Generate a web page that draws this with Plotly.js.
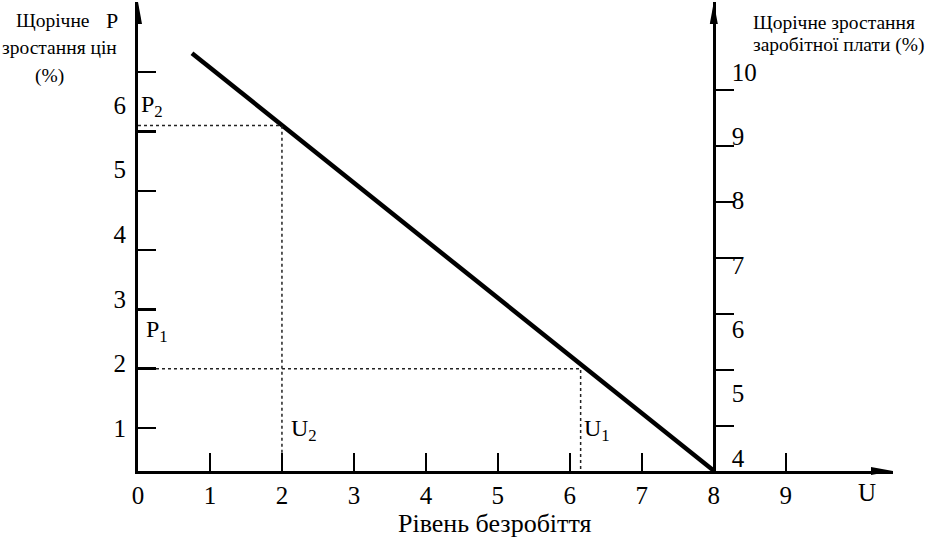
<!DOCTYPE html>
<html>
<head>
<meta charset="utf-8">
<script src="https://cdn.plot.ly/plotly-3.0.1.min.js"></script>
<style>
  html, body { margin: 0; padding: 0; background: #fff; }
  #chart { width: 928px; height: 538px; }
</style>
</head>
<body>
<div id="chart"></div>
<script>
// Phillips curve: unemployment vs annual price / wage growth
const curveU = [0.75, 8];
const curveP = [7.32, 0.28];
const pointNames = ['1', '2'];
const pointU = [6.15, 2];     // U1, U2
const pointP = [2, 6.1];      // P1, P2

const xTickVals = [0, 1, 2, 3, 4, 5, 6, 7, 8, 9];
const leftTickVals = [1, 2, 3, 4, 5, 6, 7];
const leftLabelVals = [1, 2, 3, 4, 5, 6];
const rightVals = [4, 5, 6, 7, 8, 9, 10];

const leftTitle = ['Щорічне', 'зростання цін', '(%)'];
const rightTitle = ['Щорічне зростання', 'заробітної плати (%)'];
const xTitle = 'Рівень безробіття';

const font = 'Liberation Serif, Times New Roman, serif';
const ink = '#000';

const xRange = [0, 10.49];
const yRange = [0.275, 8.184];      // tick marks on left axis
const yLabelRange = [0.334, 7.594]; // labels on left axis
const rLabelRange = [3.798, 11.088];
const rTickRange = [3.196, 11.571];
const rightPos = 8 / xRange[1];

var data = [{
  x: curveU, y: curveP,
  mode: 'lines', type: 'scatter',
  line: { color: ink, width: 4.5 },
  hoverinfo: 'skip'
}];
pointU.forEach((u, i) => {
  data.push({
    x: [0, u, u], y: [pointP[i], pointP[i], yRange[0]],
    mode: 'lines', type: 'scatter',
    line: { color: '#222', width: 1.5, dash: 'dot' },
    hoverinfo: 'skip'
  });
});
// empty traces so the extra axes get drawn
['y2', 'y3', 'y4'].forEach(ax => {
  data.push({ x: [], y: [], yaxis: ax, mode: 'lines', type: 'scatter', hoverinfo: 'skip' });
});

var annotations = [];
pointU.forEach((u, i) => {
  annotations.push({
    x: u, y: yRange[0], xref: 'x', yref: 'y',
    xanchor: 'left', yanchor: 'bottom', xshift: i == 0 ? 1 : 7, yshift: 24,
    text: 'U<sub>' + pointNames[i] + '</sub>', showarrow: false,
    font: { family: font, size: 24, color: ink }
  });
  annotations.push({
    x: 0, y: pointP[i], xref: 'x', yref: 'y',
    xanchor: 'left', yanchor: 'bottom', xshift: i == 0 ? 6 : 1, yshift: i == 0 ? 21 : 3,
    text: 'P<sub>' + pointNames[i] + '</sub>', showarrow: false,
    font: { family: font, size: 24, color: ink }
  });
});
// left title, one annotation per line
const leftTitleY = [20, 47, 76];
const leftTitleX = [53, 59, 49];
leftTitle.forEach((t, i) => {
  annotations.push({
    xref: 'paper', yref: 'paper', x: 0, y: 1, xanchor: 'center', yanchor: 'middle',
    xshift: leftTitleX[i] - 138, yshift: -leftTitleY[i] + 2,
    text: t, showarrow: false, font: { family: font, size: 19.5, color: ink }
  });
});
const rightTitleY = [22, 45];
rightTitle.forEach((t, i) => {
  annotations.push({
    xref: 'x', yref: 'paper', x: 8, y: 1, xanchor: 'left', yanchor: 'middle',
    xshift: 37, yshift: -rightTitleY[i] + 2,
    text: t, showarrow: false, font: { family: font, size: 19.5, color: ink }
  });
});
annotations.push(
  { xref: 'paper', yref: 'paper', x: 0, y: 1, xanchor: 'center', yanchor: 'middle', xshift: -26, yshift: -18,
    text: 'P', showarrow: false, font: { family: font, size: 22, color: ink } },
  { xref: 'paper', yref: 'paper', x: 1, y: 0, xanchor: 'right', yanchor: 'top', xshift: -15, yshift: -6,
    text: 'U', showarrow: false, font: { family: font, size: 25, color: ink } },
  { xref: 'x', yref: 'paper', x: 4.96, y: 0, xanchor: 'center', yanchor: 'top', yshift: -36,
    text: xTitle, showarrow: false, font: { family: font, size: 26, color: ink } }
);

// arrowheads at the axis ends
var shapes = [
  { type: 'path', xref: 'x', xsizemode: 'pixel', xanchor: 0, yref: 'paper', ysizemode: 'pixel', yanchor: 1,
    path: 'M-4,-22 L0,0 L4,-22 Z', fillcolor: ink, line: { width: 0 } },
  { type: 'path', xref: 'x', xsizemode: 'pixel', xanchor: 8, yref: 'paper', ysizemode: 'pixel', yanchor: 1,
    path: 'M-4,-22 L0,0 L4,-22 Z', fillcolor: ink, line: { width: 0 } },
  { type: 'path', xref: 'paper', xsizemode: 'pixel', xanchor: 1, yref: 'paper', ysizemode: 'pixel', yanchor: 0,
    path: 'M-22,-4 L0,0 L-22,4 Z', fillcolor: ink, line: { width: 0 } }
];

var tickFont = { family: font, size: 25, color: ink };
var layout = {
  width: 928, height: 538,
  margin: { l: 138, r: 35, t: 2, b: 67 },
  paper_bgcolor: '#fff', plot_bgcolor: '#fff',
  font: { family: font, color: ink },
  showlegend: false, hovermode: false,
  xaxis: {
    range: xRange, tickvals: xTickVals, ticktext: xTickVals.map(String),
    ticks: 'inside', ticklen: 18, tickwidth: 2.5, tickcolor: ink,
    showline: true, linewidth: 3, linecolor: ink,
    showgrid: false, zeroline: false, tickfont: tickFont, fixedrange: true
  },
  yaxis: {
    range: yRange, tickvals: leftTickVals, showticklabels: false,
    ticks: 'inside', ticklen: 18, tickwidth: 2.5, tickcolor: ink,
    showline: true, linewidth: 3, linecolor: ink,
    showgrid: false, zeroline: false, fixedrange: true
  },
  yaxis4: {
    overlaying: 'y', anchor: 'x', side: 'left',
    range: yLabelRange, tickvals: leftLabelVals, ticktext: leftLabelVals.map(String),
    ticks: 'outside', ticklen: 6, tickcolor: 'rgba(0,0,0,0)',
    showline: false, showgrid: false, zeroline: false, tickfont: tickFont, fixedrange: true
  },
  yaxis3: {
    overlaying: 'y', anchor: 'free', position: rightPos, side: 'right',
    range: rTickRange, tickvals: rightVals, showticklabels: false,
    ticks: 'outside', ticklen: 18, tickwidth: 2.5, tickcolor: ink,
    showline: true, linewidth: 3, linecolor: ink,
    showgrid: false, zeroline: false, fixedrange: true
  },
  yaxis2: {
    overlaying: 'y', anchor: 'free', position: rightPos, side: 'right',
    range: rLabelRange, tickvals: rightVals, ticktext: rightVals.map(String),
    ticks: 'outside', ticklen: 12, tickcolor: 'rgba(0,0,0,0)',
    showline: false, showgrid: false, zeroline: false, tickfont: tickFont, fixedrange: true
  },
  annotations, shapes
};

Plotly.newPlot('chart', data, layout, { displayModeBar: false, staticPlot: true });
</script>
</body>
</html>
